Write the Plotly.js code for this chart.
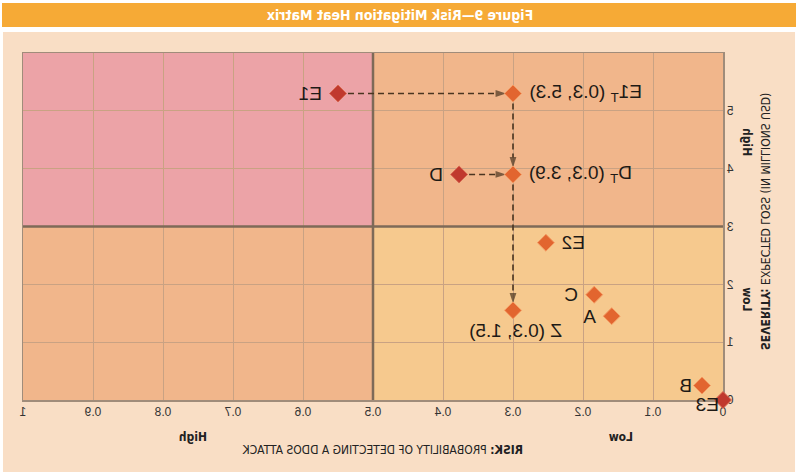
<!DOCTYPE html>
<html>
<head>
<meta charset="utf-8">
<script src="https://cdn.plot.ly/plotly-3.0.1.min.js"></script>
<style>
  html, body { margin: 0; padding: 0; background: #ffffff; }
  #chart { width: 800px; height: 475px; transform: scaleX(-1); transform-origin: 50% 50%; }
</style>
</head>
<body>
<div id="chart"></div>
<script>
// ---- data ----
const pointLabels = ['E1', 'E1<sub>T</sub> (0.3, 5.3)', 'D', 'D<sub>T</sub> (0.3, 3.9)', 'E2', 'C', 'A', 'Z (0.3, 1.5)', 'B', 'E3'];
const probability = [0.55, 0.3, 0.377, 0.3, 0.253, 0.184, 0.159, 0.3, 0.03, 0];
const expectedLoss = [5.3, 5.3, 3.9, 3.9, 2.72, 1.82, 1.45, 1.55, 0.25, 0];
const pointKind = ['initial', 'treated', 'initial', 'treated', 'treated', 'treated', 'treated', 'treated', 'treated', 'initial'];
// label placement (style): side of the point where the label sits
const labelSide = ['right', 'left', 'right', 'left', 'left', 'right', 'right', 'below', 'right', 'right'];
// arrows: [from index, to index]
const arrowLinks = [[0, 1], [1, 3], [2, 3], [3, 7]];
const xTickVals = [0, 0.1, 0.2, 0.3, 0.4, 0.5, 0.6, 0.7, 0.8, 0.9, 1];
const xTickText = ['0', '0.1', '0.2', '0.3', '0.4', '0.5', '0.6', '0.7', '0.8', '0.9', '1'];
const yTickVals = [0, 1, 2, 3, 4, 5];
const yTickText = ['0', '1', '2', '3', '4', '5'];
const xSplit = 0.5, ySplit = 3, xMax = 1, yMax = 6;

const narrow = '"Liberation Sans Narrow", "DejaVu Sans Condensed", Arial, sans-serif';
const sans = '"Liberation Sans", Arial, sans-serif';

const traces = [];
// dashed connector lines with arrowheads at the target end
arrowLinks.forEach(([a, b]) => {
  traces.push({
    type: 'scatter', mode: 'lines+markers', hoverinfo: 'skip', showlegend: false, cliponaxis: false,
    x: [probability[a], probability[b]], y: [expectedLoss[a], expectedLoss[b]],
    line: { color: '#4a3520', width: 1.6, dash: '6px,4px' },
    marker: { symbol: ['circle', 'arrow'], size: [0, 11], color: '#4a3520', angleref: 'previous', standoff: [0, 7], line: { width: 0 } }
  });
});
// points
traces.push({
  type: 'scatter', mode: 'markers', showlegend: false, cliponaxis: false,
  x: probability, y: expectedLoss,
  marker: {
    symbol: 'diamond', size: 13,
    color: pointKind.map(k => k === 'initial' ? '#c0392e' : '#e2652f'),
    line: { color: pointKind.map(k => k === 'initial' ? '#d8664f' : '#f49a62'), width: 1 }
  }
});

const annotations = [];
// point labels
pointLabels.forEach((t, i) => {
  const side = labelSide[i];
  const a = {
    text: t, x: probability[i], y: expectedLoss[i], xref: 'x', yref: 'y', showarrow: false,
    font: { family: sans, size: 19, color: '#1e1a16' }
  };
  if (side === 'right') { a.xanchor = 'left'; a.yanchor = 'middle'; a.xshift = (i === 9 ? 2 : (i === 8 ? 8 : 14)); a.yshift = (i === 9 ? -4 : 0); }
  else if (side === 'left') { a.xanchor = 'right'; a.yanchor = 'middle'; a.xshift = -14; }
  else { a.xanchor = 'center'; a.yanchor = 'top'; a.yshift = -8; a.xshift = -3; }
  annotations.push(a);
});
// axis descriptors
const axFont = { family: narrow, size: 12, color: '#222' };
annotations.push(
  { text: '<b>Low</b>', x: 0.145, y: -0.107, xref: 'x', yref: 'paper', xanchor: 'center', yanchor: 'middle', showarrow: false, font: axFont },
  { text: '<b>High</b>', x: 0.757, y: -0.107, xref: 'x', yref: 'paper', xanchor: 'center', yanchor: 'middle', showarrow: false, font: axFont },
  { text: '<b>RISK:</b> PROBABILITY OF DETECTING A DDOS ATTACK', x: 0.486, y: -0.143, xref: 'paper', yref: 'paper', xanchor: 'center', yanchor: 'middle', showarrow: false, font: axFont },
  { text: '<b>High</b>', x: -0.035, y: 4.45, xref: 'paper', yref: 'y', xanchor: 'center', yanchor: 'middle', textangle: -90, showarrow: false, font: axFont },
  { text: '<b>Low</b>', x: -0.035, y: 1.73, xref: 'paper', yref: 'y', xanchor: 'center', yanchor: 'middle', textangle: -90, showarrow: false, font: axFont },
  { text: '<b>SEVERITY:</b> EXPECTED LOSS (IN MILLIONS USD)', x: -0.06, y: 0.513, xref: 'paper', yref: 'paper', xanchor: 'center', yanchor: 'middle', textangle: -90, showarrow: false, font: axFont }
);

const shapes = [
  // page panel and title banner
  { type: 'rect', xref: 'paper', yref: 'paper', x0: -0.1029, x1: 1.0286, y0: -0.2075, y1: 1.0605, fillcolor: '#f9dec5', line: { width: 0 }, layer: 'below' },
  { type: 'rect', xref: 'paper', yref: 'paper', x0: -0.1043, x1: 1.03, y0: 1.0749, y1: 1.1441, fillcolor: '#f6aa36', line: { width: 0 }, layer: 'below' },
  // quadrants
  { type: 'rect', xref: 'x', yref: 'y', x0: 0, x1: xSplit, y0: ySplit, y1: yMax, fillcolor: '#f1b68b', line: { width: 0 }, layer: 'below' },
  { type: 'rect', xref: 'x', yref: 'y', x0: xSplit, x1: xMax, y0: ySplit, y1: yMax, fillcolor: '#eca3a7', line: { width: 0 }, layer: 'below' },
  { type: 'rect', xref: 'x', yref: 'y', x0: xSplit, x1: xMax, y0: 0, y1: ySplit, fillcolor: '#f1b68b', line: { width: 0 }, layer: 'below' },
  { type: 'rect', xref: 'x', yref: 'y', x0: 0, x1: xSplit, y0: 0, y1: ySplit, fillcolor: '#f6c98e', line: { width: 0 }, layer: 'below' },
  // split lines
  { type: 'line', xref: 'x', yref: 'y', x0: xSplit, x1: xSplit, y0: 0, y1: yMax, line: { color: '#7e6a58', width: 2.5 }, layer: 'between' },
  { type: 'line', xref: 'x', yref: 'y', x0: 0, x1: xMax, y0: ySplit, y1: ySplit, line: { color: '#7e6a58', width: 2.5 }, layer: 'between' }
];

const layout = {
  width: 800, height: 475,
  margin: { l: 77, r: 23, t: 53, b: 75 },
  paper_bgcolor: '#ffffff', plot_bgcolor: 'rgba(0,0,0,0)',
  title: {
    text: '<b>Figure 9\u2014Risk Mitigation Heat Matrix</b>',
    font: { family: narrow, size: 14, color: '#ffffff' },
    x: 0.5, xref: 'container', y: 0.968, yref: 'container', yanchor: 'middle'
  },
  xaxis: {
    range: [0, xMax], tickvals: xTickVals, ticktext: xTickText,
    showgrid: true, gridcolor: '#c9a283', gridwidth: 1, zeroline: false,
    showline: true, mirror: true, linecolor: '#a08c7a', linewidth: 1.5, layer: 'below traces',
    tickfont: { family: sans, size: 12, color: '#333' }, ticks: '', fixedrange: true
  },
  yaxis: {
    range: [0, yMax], tickvals: yTickVals, ticktext: yTickText,
    showgrid: true, gridcolor: '#c9a283', gridwidth: 1, zeroline: false,
    showline: true, mirror: true, linecolor: '#a08c7a', linewidth: 1.5, layer: 'below traces',
    tickfont: { family: sans, size: 12, color: '#333' }, ticks: '', fixedrange: true
  },
  shapes: shapes,
  annotations: annotations,
  showlegend: false
};

Plotly.newPlot('chart', traces, layout, { displayModeBar: false, staticPlot: true });
</script>
</body>
</html>
